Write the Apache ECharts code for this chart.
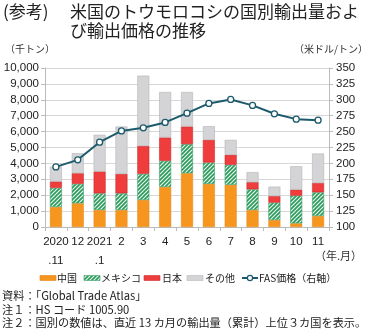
<!DOCTYPE html>
<html><head><meta charset="utf-8">
<script src="https://cdn.jsdelivr.net/npm/echarts@6/dist/echarts.min.js"></script>
<style>html,body{margin:0;padding:0;background:#fff}#c{width:370px;height:331px}</style>
</head><body><div id="c"></div>
<script>
const categories = ['2020\n.11','12','2021\n.1','2','3','4','5','6','7','8','9','10','11'];
const china  = [1260,1490,1070,1070,1700,2520,3380,2710,2650,1070,440,230,690];
const mexico = [1200,1220,1050,1050,1640,1640,1830,1340,1260,1300,1090,1740,1490];
const japan  = [400,670,1370,1220,1760,1470,1110,1430,630,450,420,380,590];
const others = [940,1260,2310,2980,4420,2860,2170,860,940,630,590,1470,1850];
const fasPrice = [194.5,205.6,233.4,251,256,264.4,279,294.3,300.6,291.2,278,269.6,268];
const seriesNames = ['中国','メキシコ','日本','その他','FAS価格（右軸）'];
const leftTicks = {min:0, max:10000, interval:1000};
const rightTicks = {min:100, max:350, interval:25};

const FONT = "'Liberation Sans','Noto Sans CJK JP',sans-serif";
const JP = "'Noto Sans CJK JP',sans-serif";

// hatch pattern for Mexico
const pc = document.createElement('canvas');
pc.width = 4; pc.height = 4;
const g = pc.getContext('2d');
g.fillStyle = '#e8f4ec'; g.fillRect(0,0,4,4);
g.strokeStyle = '#2a9a5c'; g.lineWidth = 1.6;
g.beginPath();
g.moveTo(-1,1); g.lineTo(1,-1);
g.moveTo(-1,5); g.lineTo(5,-1);
g.moveTo(3,5); g.lineTo(5,3);
g.stroke();
const hatch = {image: pc, repeat: 'repeat'};

const C_CN = '#f7961f', C_JP = '#ef3c3c', C_OT = '#d4d4d6', C_LN = '#1b5a6b';

// legend drawn as graphic (icon rect + label)
const LY = 278;
const legendBox = (x, fill, stroke, label, lx) => ([
  {type:'rect',shape:{x:x,y:LY-2.5,width:16,height:5},style:{fill:fill,stroke:stroke,lineWidth:0.6}},
  {type:'text',x:lx,y:LY,style:{text:label,font:'10px '+JP,fill:'#222',verticalAlign:'middle'}}
]);
const legendGraphics = [].concat(
  legendBox(40, C_CN, '#e5851a', seriesNames[0], 57),
  legendBox(84, hatch, '#3a9f66', seriesNames[1], 101),
  legendBox(144, C_JP, '#c93030', seriesNames[2], 162),
  legendBox(187, C_OT, '#b5b5b8', seriesNames[3], 205),
  [
    {type:'line',shape:{x1:242,y1:LY,x2:258,y2:LY},style:{stroke:C_LN,lineWidth:2}},
    {type:'circle',shape:{cx:250,cy:LY,r:2.6},style:{fill:'#fff',stroke:C_LN,lineWidth:1.2}},
    {type:'text',x:259,y:LY,style:{text:seriesNames[4],font:'10px '+JP,fill:'#222',verticalAlign:'middle'}}
  ]
);

const chart = echarts.init(document.getElementById('c'), null, {renderer:'canvas'});
const barW = 12;
chart.setOption({
  animation:false,
  textStyle:{fontFamily:FONT},
  grid:{left:45,right:41,top:68,bottom:104},
  legend:{show:false, data:seriesNames},
  graphic:[
    {type:'text',left:3,top:3,style:{text:'(参考)',font:'17px '+JP,fill:'#222'}},
    {type:'text',left:70,top:3,style:{text:'米国のトウモロコシの国別輸出量およ',font:'17px '+JP,fill:'#222'}},
    {type:'text',left:70,top:22,style:{text:'び輸出価格の推移',font:'17px '+JP,fill:'#222'}},
    {type:'text',left:5,top:44,style:{text:'（千トン）',font:'10px '+JP,fill:'#333'}},
    {type:'text',right:2,top:44,style:{text:'（米ドル/トン）',font:'10px '+JP,fill:'#333'}},
    {type:'text',right:8,top:250,style:{text:'（年.月）',font:'11px '+JP,fill:'#333'}},
    {type:'text',left:2,top:290,style:{text:'資料：「Global Trade Atlas」',font:'11.2px '+JP,fill:'#222'}},
    {type:'text',left:2,top:304,style:{text:'注１：HS コード 1005.90',font:'11.2px '+JP,fill:'#222'}},
    {type:'text',left:2,top:317,style:{text:'注２：国別の数値は、直近 13 カ月の輸出量（累計）上位３カ国を表示。',font:'11.2px '+JP,fill:'#222'}}
  ].concat(legendGraphics),
  xAxis:{
    type:'category', data:categories, boundaryGap:true,
    axisLine:{lineStyle:{color:'#bbb'}},
    axisTick:{show:true,length:4,lineStyle:{color:'#bbb'}},
    axisLabel:{fontSize:11.5,color:'#222',lineHeight:19,margin:5,interval:0}
  },
  yAxis:[
    {type:'value',min:leftTicks.min,max:leftTicks.max,interval:leftTicks.interval,
     axisLine:{show:true,lineStyle:{color:'#bbb'}},
     axisTick:{show:true,length:4,lineStyle:{color:'#bbb'}},
     splitLine:{lineStyle:{color:'#d8d8d8'}},
     axisLabel:{fontSize:11.5,color:'#222',margin:6,
       formatter:v=>v.toLocaleString('en-US')}},
    {type:'value',min:rightTicks.min,max:rightTicks.max,interval:rightTicks.interval,
     axisLine:{show:true,lineStyle:{color:'#bbb'}},
     axisTick:{show:true,length:4,lineStyle:{color:'#bbb'}},
     splitLine:{show:false},
     axisLabel:{fontSize:11.5,color:'#222',margin:7}}
  ],
  series:[
    {name:seriesNames[0],type:'bar',stack:'a',barWidth:barW,data:china,
     itemStyle:{color:C_CN,borderColor:'#e5851a',borderWidth:0.5}},
    {name:seriesNames[1],type:'bar',stack:'a',barWidth:barW,data:mexico,
     itemStyle:{color:hatch,borderColor:'#3a9f66',borderWidth:0.6}},
    {name:seriesNames[2],type:'bar',stack:'a',barWidth:barW,data:japan,
     itemStyle:{color:C_JP,borderColor:'#c93030',borderWidth:0.6}},
    {name:seriesNames[3],type:'bar',stack:'a',barWidth:barW,data:others,
     itemStyle:{color:C_OT,borderColor:'#b5b5b8',borderWidth:0.6}},
    {name:seriesNames[4],type:'line',yAxisIndex:1,data:fasPrice,z:5,
     symbol:'circle',symbolSize:6,showAllSymbol:true,
     lineStyle:{color:C_LN,width:2},
     itemStyle:{color:'#fff',borderColor:C_LN,borderWidth:1.3}}
  ]
});
</script></body></html>
